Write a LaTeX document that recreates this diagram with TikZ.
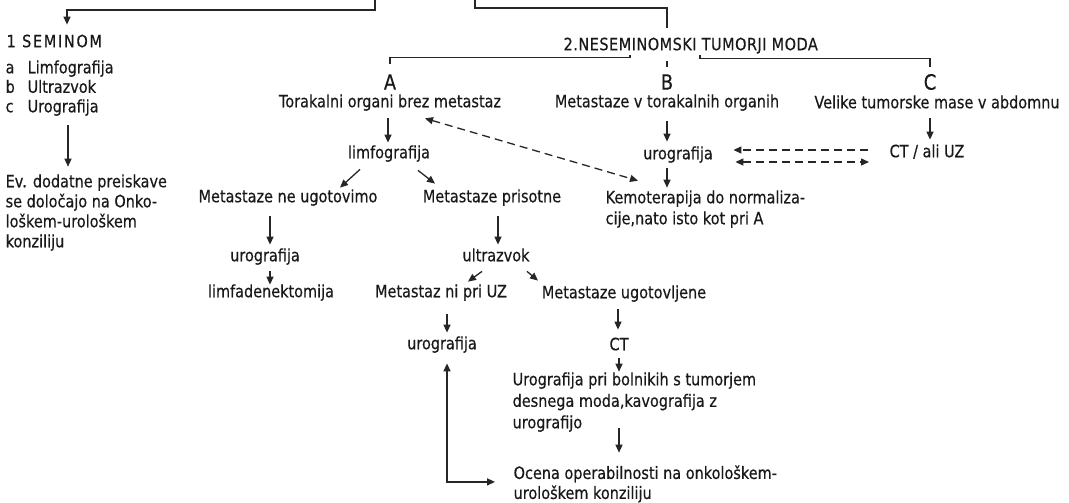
\documentclass[tikz,border=0pt]{standalone}
\usepackage{fontspec}
\setmainfont{DejaVu Sans}[FakeStretch=0.85,FakeBold=0.4]
\usetikzlibrary{arrows.meta,calc}
\begin{document}
\begin{tikzpicture}[x=1pt,y=-1pt,
  line width=1.3pt,
  lbl/.style={font=\fontsize{17}{20}\selectfont, inner sep=1pt, text height=12pt, text depth=3.5pt, text=black!90},
  capsl/.style={lbl, font=\fontsize{17}{20}\selectfont\addfontfeature{LetterSpace=#1}},
  ml/.style={font=\fontsize{17}{#1}\selectfont, inner sep=0pt, align=left, anchor=north west, text=black!90},
  ml/.default=20,
  bigl/.style={font=\fontsize{21}{21}\selectfont, inner sep=1pt, text=black!90},
  ln/.style={draw=black!85},
  arr/.style={ln, -{Triangle[length=8pt,width=7pt]}},
  darr/.style={ln, {Triangle[length=8pt,width=7pt]}-{Triangle[length=8pt,width=7pt]}},
  dsh/.style={dash pattern=on 8pt off 5pt}
]
\path[fill=white] (0,0) rectangle (1069,503);
\useasboundingbox (0,0) rectangle (1069,503);

% ---- left column: seminom ----
\node[capsl=10, anchor=west] (sem1) at (5,43) {1 SEMINOM};
\node[ml=19.5] (semlist) at (5,59.7) {\makebox[22pt][l]{a}Limfografija\\\makebox[22pt][l]{b}Ultrazvok\\\makebox[22pt][l]{c}Urografija};
\node[ml=20] (ev) at (5,173.7) {Ev. dodatne preiskave\\se določajo na Onko-\\loškem-urološkem\\konziliju};

% ---- title and branches ----
\node[capsl=3, anchor=west] (nes) at (562,46) {2.NESEMINOMSKI TUMORJI MODA};
\node[bigl] (Alet) at (390,82) {A};
\node[bigl] (Blet) at (667,82) {B};
\node[bigl] (Clet) at (930,82) {C};
\node[lbl] (Atxt) at (390,103) {Torakalni organi brez metastaz};
\node[lbl] (Btxt) at (667,103) {Metastaze v torakalnih organih};
\node[lbl] (Ctxt) at (937,104) {Velike tumorske mase v abdomnu};

% ---- branch A ----
\node[lbl] (limfA) at (389,154) {limfografija};
\node[lbl] (nugot) at (288,198) {Metastaze ne ugotovimo};
\node[lbl] (pris) at (492,198) {Metastaze prisotne};
\node[lbl] (uroA) at (265,257) {urografija};
\node[lbl] (limfad) at (271,293) {limfadenektomija};
\node[lbl] (ultra) at (496,257) {ultrazvok};
\node[lbl] (niUZ) at (441,293) {Metastaz ni pri UZ};
\node[lbl] (ugot) at (624,294) {Metastaze ugotovljene};
\node[lbl] (uroN) at (442,345) {urografija};
\node[lbl] (CT) at (619,346) {CT};
\node[ml=21.5] (urobol) at (512,371.7) {Urografija pri bolnikih s tumorjem\\desnega moda,kavografija z\\urografijo};
\node[ml=20] (ocena) at (513,464.7) {Ocena operabilnosti na onkološkem-\\urološkem konziliju};

% ---- branch B / C ----
\node[lbl] (uroB) at (678,155) {urografija};
\node[ml=21] (kemo) at (605,189.7) {Kemoterapija do normaliza-\\cije,nato isto kot pri A};
\node[lbl, anchor=west] (CTC) at (888,153) {CT / ali UZ};

% ---- top connectors ----
\coordinate (t1) at (375,0);
\coordinate (t2) at (475,0);
\draw[arr] (t1) -- ++(0,10) -| ($(sem1.north west)+(62,-9)$);
\draw[ln] (t2) -- ++(0,8) -| ($(nes.north west)+(105,-9)$);

% ---- bracket under title ----
\draw[ln] ($(Alet.north)+(0,-9)$) -- ++(0,-6) -| ($(nes.south west)+(68,0)$);
\draw[ln] (Blet.north) ++(0,-6) -- ++(0,-6);
\draw[ln] ($(Clet.north)+(0,-5)$) -- ++(0,-9) -| ($(nes.south west)+(138,0)$);

% ---- seminom arrow ----
\draw[arr] ($(semlist.south west)+(63,9)$) -- ($(semlist.south west |- ev.north)+(63,-7)$);

% ---- branch A arrows ----
\draw[arr] ($(Atxt.south)+(-2,6)$) -- ($(limfA.north)+(-1,-2)$);
\draw[arr] ($(limfA.south)+(-29,6)$) -- ($(nugot.north)+(52,-1)$);
\draw[arr] ($(limfA.south)+(29,7)$) -- ($(pris.north)+(-57,-5)$);
\draw[arr] ($(nugot.south)+(-18,9)$) -- ($(uroA.north)+(5,-3)$);
\draw[arr] ($(uroA.south)+(5,5)$) -- ($(limfad.north)+(-1,1)$);
\draw[arr] ($(pris.south)+(6,9)$) -- ($(ultra.north)+(2,-3)$);
\draw[arr] ($(ultra.south)+(-14,5)$) -- ($(niUZ.north)+(27,-2)$);
\draw[arr] ($(ultra.south)+(31,5)$) -- ($(ugot.north)+(-86,-4)$);
\draw[arr] ($(niUZ.south)+(6,12)$) -- ($(uroN.north)+(5,-3)$);
\draw[arr] ($(ugot.south)+(-6,6)$) -- ($(CT.north)+(-1,-7)$);
\draw[arr] ($(CT.south)+(0,3)$) -- ($(CT.south |- urobol.north)+(0,0)$);
\draw[arr] ($(CT.south |- urobol.south)+(0,-4)$) -- ($(CT.south |- ocena.north)+(0,-12)$);
\draw[darr] ($(uroN.south)+(5,9)$) |- ($(ocena.west)+(-18,-2)$);

% ---- branch B / C arrows ----
\draw[arr] ($(Btxt.south)+(0,9)$) -- ($(Btxt.south |- uroB.north)+(0,-4)$);
\draw[arr] ($(Btxt.south |- uroB.south)+(0,4)$) -- ($(Btxt.south |- kemo.north)+(0,-2)$);
\draw[darr, dsh] ($(Atxt.south)+(35,6)$) -- ($(kemo.north west)+(33,-9)$);
\draw[arr, dsh] ($(CTC.west)+(-20,-3)$) -- ($(uroB.east)+(19,-5)$);
\draw[darr, dsh] ($(uroB.east)+(21,7)$) -- ($(CTC.west)+(-19,9)$);
\draw[arr] ($(Clet |- Ctxt.south)+(0,5)$) -- ($(Clet |- CTC.north)+(0,-4)$);
\end{tikzpicture}
\end{document}
